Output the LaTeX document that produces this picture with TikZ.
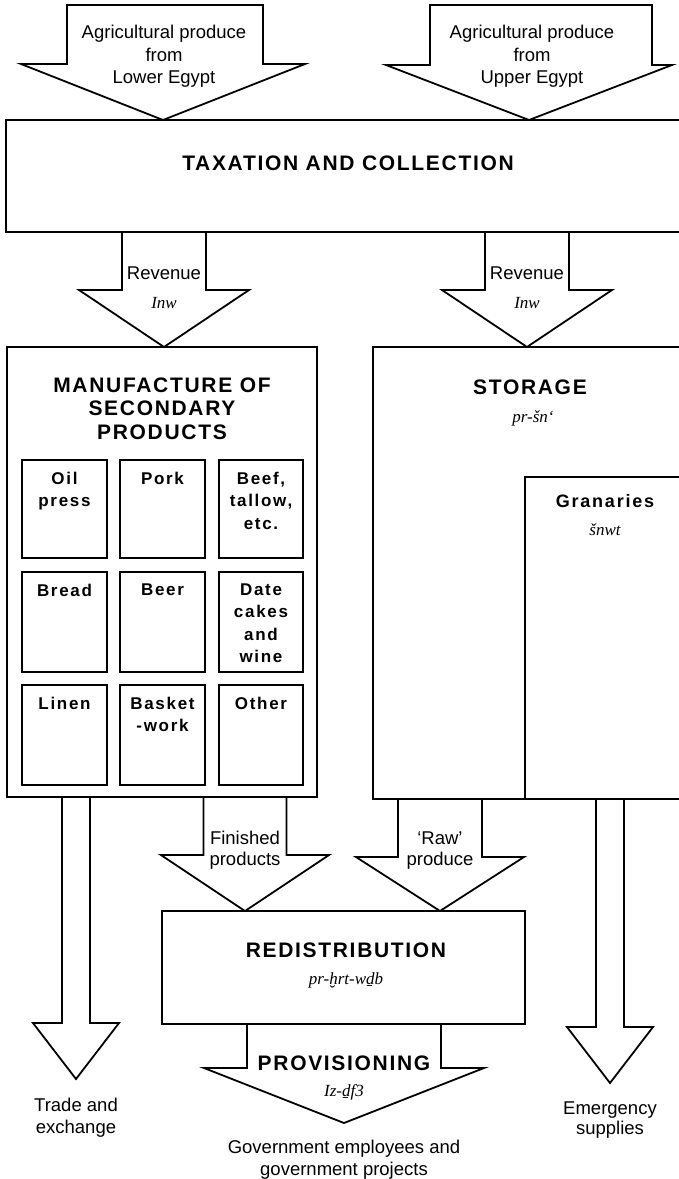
\documentclass[tikz,border=0pt]{standalone}
\usepackage{fontspec}
\setmainfont{Liberation Sans}
\newfontfamily\hdfont[LetterSpace=8]{Liberation Sans}
\newfontfamily\celfont[LetterSpace=10]{Liberation Sans}
\newfontfamily\trfont{Liberation Serif}
\usetikzlibrary{calc}

\tikzset{
 box/.style={draw, line width=1.8pt, inner sep=0pt, outer sep=0pt, anchor=north west},
 blk/.style={draw, line width=1.8pt, line join=miter},
 lbl/.style={inner sep=0pt, align=center, anchor=north, font=\fontsize{18.5}{21.5}\selectfont},
 hd/.style={inner sep=0pt, align=center, anchor=north, font=\hdfont\bfseries\fontsize{21}{23.5}\selectfont},
 cl/.style={inner sep=0pt, align=center, anchor=north, font=\celfont\bfseries\fontsize{17}{22.5}\selectfont},
 gr/.style={inner sep=0pt, align=center, anchor=north, font=\celfont\bfseries\fontsize{18}{22}\selectfont},
 tr/.style={inner sep=0pt, anchor=base, font=\trfont\itshape\fontsize{17}{20}\selectfont},
}

% block arrow: from, tip, shaft half width, head half width, head length, shaft offset
\newcommand\blkarrow[6]{\draw[blk] let \p1=(#1), \p2=(#2) in
  (\x2+#6-#3,\y1) -- (\x2+#6-#3,\y2+#5) -- (\x2-#4,\y2+#5) -- (\x2,\y2) --
  (\x2+#4,\y2+#5) -- (\x2+#6+#3,\y2+#5) -- (\x2+#6+#3,\y1);}
\newcommand\blkarrowc[6]{\draw[blk] let \p1=(#1), \p2=(#2) in
  (\x2+#6-#3,\y1) -- (\x2+#6-#3,\y2+#5) -- (\x2-#4,\y2+#5) -- (\x2,\y2) --
  (\x2+#4,\y2+#5) -- (\x2+#6+#3,\y2+#5) -- (\x2+#6+#3,\y1) -- cycle;}

\begin{document}
\begin{tikzpicture}[x=1pt,y=-1pt]
\useasboundingbox (0,0) rectangle (679,1179);
\clip (0,0) rectangle (679,1179);

% main boxes
\node[box, minimum width=684pt, minimum height=112pt] (tax) at (6,120) {};
\node[box, minimum width=310pt, minimum height=450pt] (man) at (7,347) {};
\node[box, minimum width=317pt, minimum height=452pt] (sto) at (373,347) {};
\node[box, minimum width=165pt, minimum height=322pt] (gra) at (525,477) {};
\node[box, minimum width=363pt, minimum height=113pt] (red) at (162,911) {};

% product cells
\foreach \r/\y/\h in {1/460/98pt, 2/572/100pt, 3/685/100pt} {
  \foreach \c/\x/\w in {1/22/85pt, 2/120/85pt, 3/219/84pt} {
    \node[box, line width=1.6pt, minimum width=\w, minimum height=\h] (c\r\c) at (\x,\y) {};
  }
}
\node[cl] (l11) at ($(c11.north)+(0,11.5)$) {Oil\\press};
\node[cl] (l12) at ($(c12.north)+(0,11.5)$) {Pork};
\node[cl] (l13) at ($(c13.north)+(0,11.5)$) {Beef,\\tallow,\\etc.};
\node[cl] (l21) at ($(c21.north)+(0,11.5)$) {Bread};
\node[cl] (l22) at ($(c22.north)+(0,11.5)$) {Beer};
\node[cl] (l23) at ($(c23.north)+(0,11.5)$) {Date\\cakes\\and\\wine};
\node[cl] (l31) at ($(c31.north)+(0,11.5)$) {Linen};
\node[cl] (l32) at ($(c32.north)+(0,11.5)$) {Basket\\-work};
\node[cl] (l33) at ($(c33.north)+(0,11.5)$) {Other};

% arrow reference coordinates
\coordinate (ts1) at (163,5);
\coordinate (ts2) at (529,5);
\coordinate (rv1) at (164,0);
\coordinate (rv2) at (527,0);
\coordinate (fin) at (245,0);
\coordinate (raw) at (440,0);
\coordinate (trd) at (76,1079);
\coordinate (emg) at (610,1083);
\coordinate (prv) at (344,1123);

% block arrows
\blkarrowc{ts1}{ts1 |- tax.north}{98pt}{142pt}{56pt}{2pt}
\blkarrowc{ts2}{ts2 |- tax.north}{111pt}{143pt}{55pt}{12pt}
\blkarrow{rv1 |- tax.south}{rv1 |- man.north}{42pt}{85pt}{57pt}{0pt}
\blkarrow{rv2 |- tax.south}{rv2 |- sto.north}{42pt}{85pt}{57pt}{0pt}
\blkarrow{fin |- man.south}{fin |- red.north}{41.5pt}{84pt}{56pt}{0pt}
\blkarrow{raw |- sto.south}{raw |- red.north}{42pt}{84pt}{54pt}{0pt}
\blkarrow{trd |- man.south}{trd}{14pt}{43pt}{56pt}{0pt}
\blkarrow{emg |- sto.south}{emg}{14pt}{43pt}{56pt}{0pt}
\blkarrow{prv |- red.south}{prv}{97pt}{140pt}{55pt}{0pt}

% texts
\node[lbl, font=\fontsize{18.5}{22.5}\selectfont] (agl) at (164,25.3) {Agricultural produce\\from\\Lower Egypt};
\node[lbl, font=\fontsize{18.5}{22.5}\selectfont] (agu) at (532,25.3) {Agricultural produce\\from\\Upper Egypt};
\node[hd] (taxl) at (348,155.5) {TAXATION AND COLLECTION};
\node[lbl] (rv1l) at (164,266.3) {Revenue};
\node[tr] (rv1t) at (164,308.5) {Inw};
\node[lbl] (rv2l) at (527,266.3) {Revenue};
\node[tr] (rv2t) at (527,308.5) {Inw};
\node[hd] (manl) at (162,377.5) {MANUFACTURE OF\\SECONDARY\\PRODUCTS};
\node[hd] (stol) at (530,379.5) {STORAGE};
\node[tr] (stot) at (533,422) {pr-šn‘};
\node[gr] (gral) at (605,494.5) {Granaries};
\node[tr] (grat) at (605,535) {šnwt};
\node[lbl, font=\fontsize{18.5}{20.5}\selectfont] (finl) at (245,831.3) {Finished\\products};
\node[lbl] (rawl) at (440,831.3) {‘Raw’\\produce};
\node[hd] (redl) at (346,942.5) {REDISTRIBUTION};
\node[tr] (redt) at (346,984) {pr-ḫrt-wḏb};
\node[hd] (prvl) at (344,1055.5) {PROVISIONING};
\node[tr] (prvt) at (344,1096) {Iz-ḏf3};
\node[lbl] (trdl) at (76,1098.3) {Trade and\\exchange};
\node[lbl, font=\fontsize{18.5}{20.5}\selectfont] (emgl) at (610,1101.3) {Emergency\\supplies};
\node[lbl] (govl) at (344,1140.3) {Government employees and\\government projects};
\end{tikzpicture}
\end{document}
